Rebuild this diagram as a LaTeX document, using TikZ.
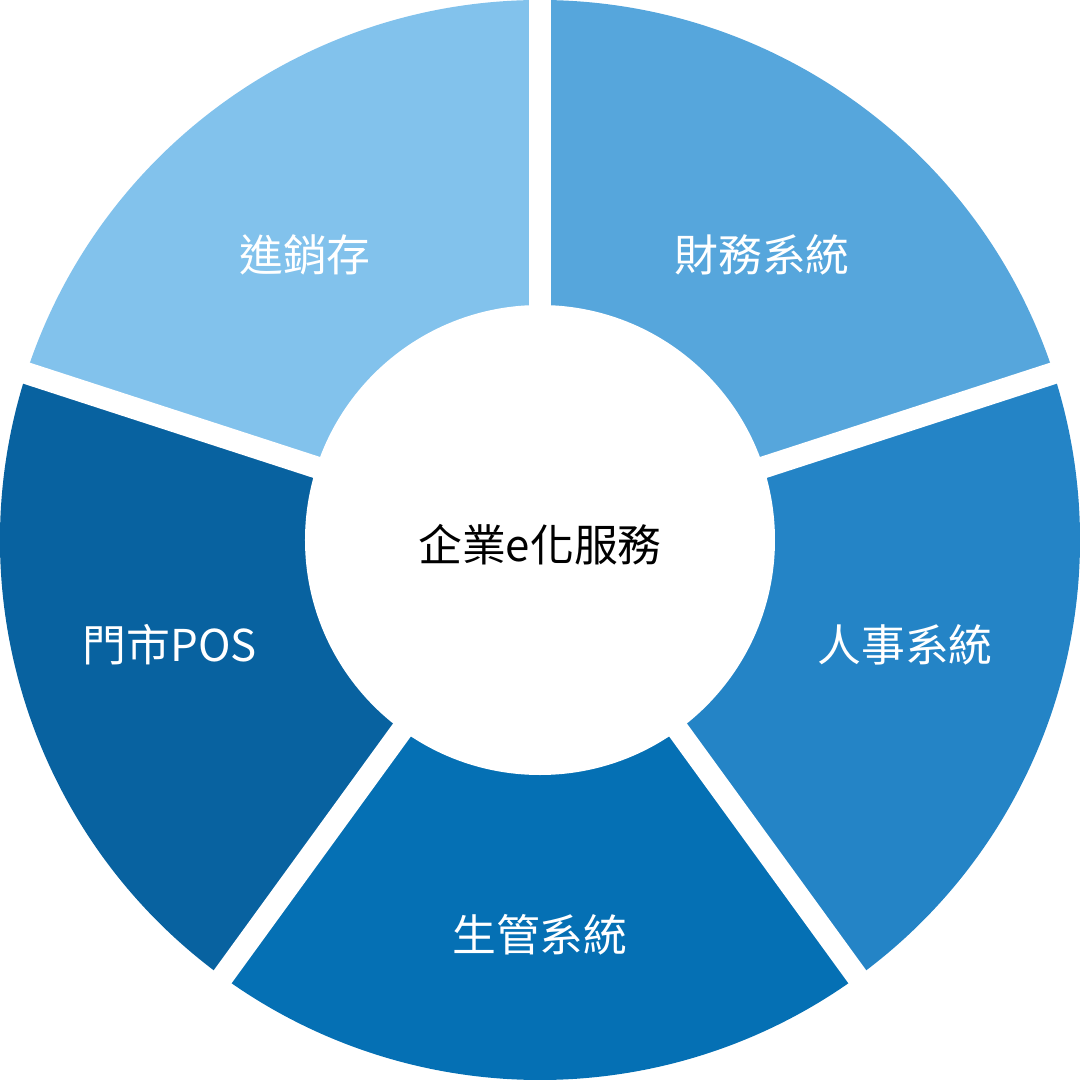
\documentclass[tikz,border=0pt]{standalone}
\usepackage{fontspec}
\setmainfont{Noto Sans CJK TC}
\usetikzlibrary{positioning}
\definecolor{segA}{HTML}{82C2EC}
\definecolor{segB}{HTML}{56A6DC}
\definecolor{segC}{HTML}{2484C6}
\definecolor{segD}{HTML}{0570B4}
\definecolor{segE}{HTML}{0862A0}
\tikzset{
  seglabel/.style={text=white,font=\fontsize{44}{50}\selectfont},
  hublabel/.style={text=black,font=\fontsize{44}{50}\selectfont},
  gapline/.style={white,line width=22bp}
}
\begin{document}
\begin{tikzpicture}[x=1bp,y=1bp]
\useasboundingbox (-540,-540) rectangle (540,540);
% sectors
\foreach \mid/\col in {126/segA,54/segB,-18/segC,-90/segD,198/segE}{
  \fill[\col] (0,0) -- (\mid-36:540) arc[start angle=\mid-36,end angle=\mid+36,radius=540] -- cycle;
}
% gaps
\coordinate (hub) at (0,0);
\foreach \ang [count=\i] in {90,18,-54,-126,162}{
  \coordinate (gap\i) at (\ang:560);
  \draw[gapline] (hub) -- (gap\i);
}
\fill[white] (hub) circle[radius=235];
% labels
\node[hublabel] (center) at (0,-5) {企業e化服務};
\node[seglabel] (stock) at (-235,285) {進銷存};
\node[seglabel] (finance) at (222,285) {財務系統};
\node[seglabel] (hr) at (365,-105) {人事系統};
\node[seglabel] (prod) at (0,-395) {生管系統};
\node[seglabel] (pos) at (-370,-105) {門市POS};
\end{tikzpicture}
\end{document}
